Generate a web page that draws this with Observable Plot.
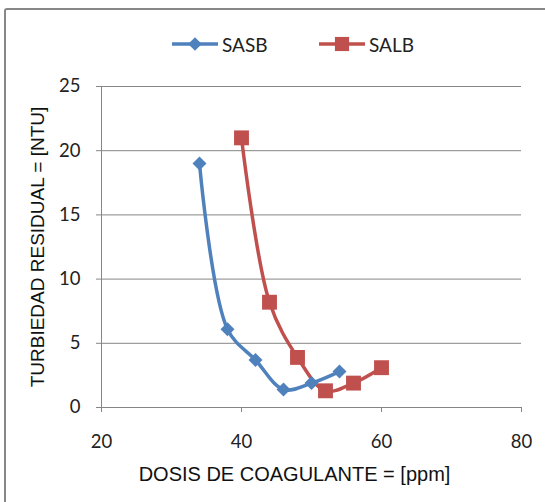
<!DOCTYPE html>
<html>
<head>
<meta charset="utf-8">
<script src="https://cdn.jsdelivr.net/npm/d3@7"></script>
<script src="https://cdn.jsdelivr.net/npm/@observablehq/plot@0.6"></script>
<style>
  html, body { margin: 0; padding: 0; background: #fff; }
  #wrap { position: relative; width: 545px; height: 502px; overflow: hidden; background: #fff; }
  #frame { position: absolute; left: 4px; top: 8px; width: 600px; height: 600px;
           border: 2px solid #878787; border-radius: 3px; box-sizing: border-box; }
  #chart { position: absolute; left: 0; top: 0; }
  #legend { position: absolute; top: 30px; left: 0; width: 545px; height: 28px;
            font-family: Lato, "Open Sans", sans-serif; font-size: 19px; color: #222; }
  .item { position: absolute; top: 0; display: flex; align-items: center; height: 28px; }
  .item svg { display: block; margin-right: 4px; }
</style>
</head>
<body>
<div id="wrap">
  <div id="frame"></div>
  <div id="chart"></div>
  <div id="legend"></div>
</div>
<script>
// Coagulant dose (ppm) and residual turbidity (NTU) for each series
const seriesNames = ["SASB", "SALB"];
const sasbDose = [34, 38, 42, 46, 50, 54];
const sasbTurbidity = [19.0, 6.1, 3.7, 1.4, 1.9, 2.8];
const salbDose = [40, 44, 48, 52, 56, 60];
const salbTurbidity = [21.0, 8.2, 3.9, 1.3, 1.9, 3.1];

const xTicks = [20, 40, 60, 80];
const yTicks = [0, 5, 10, 15, 20, 25];
const xTitle = "DOSIS DE COAGULANTE = [ppm]";
const yTitle = "TURBIEDAD RESIDUAL = [NTU]";

const colors = { SASB: "#4F81BD", SALB: "#C0504D" };
const symbols = { SASB: "diamond2", SALB: "square" };

const rows = [
  ...sasbDose.map((d, i) => ({ series: "SASB", dose: d, ntu: sasbTurbidity[i] })),
  ...salbDose.map((d, i) => ({ series: "SALB", dose: d, ntu: salbTurbidity[i] }))
];

const axisColor = "#868686";

const chart = Plot.plot({
  width: 545,
  height: 502,
  marginLeft: 101,
  marginRight: 24,
  marginTop: 86,
  marginBottom: 95,
  style: { fontFamily: "Lato, 'Open Sans', sans-serif", fontSize: "18.5px", color: "#222", background: "transparent" },
  x: { domain: [20, 80] },
  y: { domain: [0, 25] },
  marks: [
    Plot.gridY(yTicks.filter(t => t > 0), { stroke: axisColor, strokeOpacity: 1, strokeWidth: 1 }),
    Plot.ruleX([20], { stroke: axisColor, strokeWidth: 1 }),
    Plot.ruleY([0], { stroke: axisColor, strokeWidth: 1 }),
    Plot.axisY(yTicks, { tickSize: 5, tickPadding: 16, stroke: axisColor, fill: "#222", label: null }),
    Plot.axisX(xTicks, { tickSize: 5, tickPadding: 22, stroke: axisColor, fill: "#222", label: null }),
    Plot.line(rows, {
      x: "dose", y: "ntu", z: "series",
      stroke: d => colors[d.series],
      strokeWidth: 3.5, curve: "catmull-rom"
    }),
    Plot.dot(rows.filter(d => d.series === "SASB"), {
      x: "dose", y: "ntu", symbol: () => symbols.SASB, r: 6.3, fill: colors.SASB, stroke: null
    }),
    Plot.dot(rows.filter(d => d.series === "SALB"), {
      x: "dose", y: "ntu", symbol: () => symbols.SALB, r: 8.4, fill: colors.SALB, stroke: null
    }),
    Plot.text([xTitle], {
      frameAnchor: "bottom", dx: -17, dy: 73,
      fontFamily: "'Liberation Sans', Arial, sans-serif", fontSize: 20, fill: "#111"
    }),
    Plot.text([yTitle], {
      frameAnchor: "left", dx: -64, rotate: -90, textAnchor: "middle",
      fontFamily: "'Liberation Sans', Arial, sans-serif", fontSize: 19, fill: "#111"
    })
  ]
});
document.getElementById("chart").appendChild(chart);

// Legend: line swatch with the series marker, then the series name
const legend = d3.select("#legend");
const legendLeft = { SASB: 172, SALB: 319 };
for (const name of seriesNames) {
  const item = legend.append("div").attr("class", "item").style("left", legendLeft[name] + "px");
  const svg = item.append("svg").attr("width", 46).attr("height", 28);
  svg.append("line").attr("x1", 0).attr("x2", 46).attr("y1", 14).attr("y2", 14)
    .attr("stroke", colors[name]).attr("stroke-width", 3.5);
  const sym = name === "SASB" ? d3.symbolDiamond2 : d3.symbolSquare;
  const area = name === "SASB" ? 118 : 200;
  svg.append("path").attr("transform", "translate(23,14)")
    .attr("d", d3.symbol(sym, area)()).attr("fill", colors[name]);
  item.append("span").text(name);
}
</script>
</body>
</html>
